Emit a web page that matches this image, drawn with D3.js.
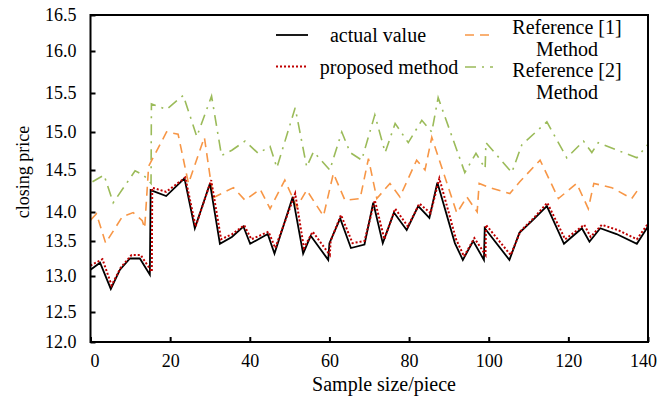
<!DOCTYPE html>
<html>
<head>
<meta charset="utf-8">
<script src="https://cdn.jsdelivr.net/npm/d3@7"></script>
<style>
  body { margin: 0; background: #fff; }
  svg { display: block; }
</style>
</head>
<body>
<svg id="chart"></svg>
<script>
// x ticks and y ticks as printed on the figure
const xTicks = [0, 20, 40, 60, 80, 100, 120, 140]
const yTicks = [12.0, 12.5, 13.0, 13.5, 14.0, 14.5, 15.0, 15.5, 16.0, 16.5]

// actual value
const actualX = [0, 2.4, 5.1, 7.4, 9.9, 12.4, 14.9, 15.1, 19.0, 23.6, 26.2, 30.0, 32.5, 35.5, 38.4, 40.1, 44.5, 46.2, 50.8, 53.4, 55.3, 59.7, 60.0, 62.7, 65.4, 68.8, 71.0, 73.4, 76.2, 79.4, 82.3, 85.1, 87.1, 91.5, 93.5, 96.1, 98.8, 99.0, 105.2, 107.7, 111.2, 114.6, 118.9, 123.4, 125.3, 128.0, 132.1, 137.2, 140]
const actualY = [13.09, 13.19, 12.82, 13.09, 13.25, 13.25, 13.02, 14.26, 14.19, 14.40, 13.72, 14.34, 13.46, 13.57, 13.75, 13.46, 13.62, 13.32, 14.18, 13.32, 13.59, 13.23, 13.47, 13.89, 13.40, 13.45, 14.11, 13.47, 13.99, 13.69, 14.07, 13.90, 14.35, 13.47, 13.23, 13.50, 13.23, 13.72, 13.23, 13.64, 13.87, 14.07, 13.46, 13.72, 13.49, 13.72, 13.62, 13.46, 13.75]

// proposed method
const proposedX = [0, 3.0, 5.3, 7.6, 10.3, 12.6, 15.4, 15.5, 19.0, 23.8, 26.4, 30.3, 32.8, 35.6, 38.6, 40.4, 44.7, 46.4, 51.4, 53.6, 55.8, 60.1, 60.3, 62.9, 65.8, 68.8, 71.4, 73.8, 76.5, 79.7, 82.6, 85.4, 87.6, 91.8, 93.8, 96.4, 99.2, 99.3, 105.5, 108.0, 111.5, 114.7, 119.2, 124.0, 125.6, 128.4, 132.4, 137.2, 140]
const proposedY = [13.15, 13.24, 12.87, 13.12, 13.30, 13.30, 13.06, 14.29, 14.24, 14.41, 13.75, 14.38, 13.53, 13.62, 13.77, 13.53, 13.66, 13.40, 14.22, 13.40, 13.66, 13.30, 13.50, 13.95, 13.47, 13.50, 14.14, 13.53, 14.04, 13.75, 14.10, 13.98, 14.40, 13.53, 13.28, 13.55, 13.30, 13.78, 13.30, 13.67, 13.91, 14.11, 13.53, 13.78, 13.57, 13.78, 13.69, 13.53, 13.80]

// Reference [1] Method
const ref1X = [0, 1.5, 3.8, 8.0, 10.7, 13.0, 13.6, 14.6, 19.1, 22.0, 24.6, 28.6, 30.8, 35.9, 38.8, 42.6, 45.1, 48.8, 51.8, 54.3, 58.5, 61.0, 63.9, 67.7, 69.8, 71.9, 75.2, 77.7, 81.9, 84.0, 85.7, 92.0, 94.5, 97.1, 97.6, 100.3, 105.3, 107.8, 112.9, 117.5, 122.1, 125.0, 126.4, 130.9, 135.9, 138.0]
const ref1Y = [13.86, 13.97, 13.47, 13.92, 13.99, 13.85, 13.72, 14.55, 15.00, 14.97, 14.34, 14.93, 14.17, 14.29, 14.14, 14.27, 14.04, 14.38, 14.06, 14.26, 13.93, 14.46, 14.14, 14.16, 14.65, 14.16, 14.34, 14.18, 14.63, 14.50, 14.93, 13.98, 14.18, 14.00, 14.34, 14.29, 14.22, 14.36, 14.63, 14.16, 14.34, 14.04, 14.34, 14.29, 14.16, 14.30]

// Reference [2] Method
const ref2X = [0.5, 3.4, 5.7, 11.2, 13.3, 15.2, 15.3, 19.1, 23.3, 26.7, 30.4, 32.9, 35.5, 38.8, 42.1, 45.1, 46.8, 51.4, 54.3, 56.0, 60.1, 63.1, 65.2, 68.1, 71.4, 74.0, 76.5, 79.8, 83.2, 85.7, 87.3, 94.0, 96.8, 99.1, 99.3, 105.8, 108.3, 114.6, 119.6, 123.8, 125.9, 127.5, 137.2, 140]
const ref2Y = [14.36, 14.44, 14.11, 14.49, 14.44, 14.34, 15.36, 15.29, 15.47, 14.94, 15.46, 14.69, 14.76, 14.88, 14.72, 14.81, 14.53, 15.31, 14.54, 14.74, 14.50, 15.00, 14.73, 14.63, 15.22, 14.73, 15.11, 14.86, 15.15, 15.00, 15.44, 14.47, 14.72, 14.52, 14.86, 14.47, 14.83, 15.13, 14.66, 14.88, 14.73, 14.86, 14.66, 14.84]

const seriesNames = ['actual value', 'proposed method', 'Reference [1]\nMethod', 'Reference [2]\nMethod']

const width = 659
const height = 396
const plotLeft = 90.5
const plotRight = 648
const plotTop = 15
const plotBottom = 342
const FONT = '"Liberation Serif", "Times New Roman", Times, serif'

const svg = d3.select('#chart').attr('width', width).attr('height', height)

const x = d3.scaleLinear().domain([0, 140]).range([plotLeft, plotRight])
// the printed y axis is not evenly spaced, so map each tick to where it sits
const y = d3.scaleLinear()
  .domain(yTicks)
  .range([342, 312, 276, 241, 212, 170, 132, 93, 51, 15])

const series = [
  { xs: actualX, ys: actualY, color: '#000000', dash: null, w: 1.8 },
  { xs: proposedX, ys: proposedY, color: '#c00000', dash: '2,2', w: 2 },
  { xs: ref1X, ys: ref1Y, color: '#f79646', dash: '9,6', w: 1.6 },
  { xs: ref2X, ys: ref2Y, color: '#9bbb59', dash: '11,6,2,6', w: 1.6 }
]

const line = d3.line().x((d) => x(d[0])).y((d) => y(d[1]))

// draw the lines, back to front
const drawOrder = [3, 2, 0, 1]
drawOrder.forEach((i) => {
  const s = series[i]
  const pts = s.xs.map((v, k) => [v, s.ys[k]])
  svg.append('path')
    .datum(pts)
    .attr('d', line)
    .attr('fill', 'none')
    .attr('stroke', s.color)
    .attr('stroke-width', s.w)
    .attr('stroke-dasharray', s.dash)
})

// frame
svg.append('rect')
  .attr('x', plotLeft)
  .attr('y', plotTop)
  .attr('width', plotRight - plotLeft)
  .attr('height', plotBottom - plotTop)
  .attr('fill', 'none')
  .attr('stroke', '#000')
  .attr('stroke-width', 2)

// axes, ticks pointing inwards
const xAxis = d3.axisBottom(x).tickValues(xTicks).tickSizeInner(-5).tickSizeOuter(0).tickPadding(12)
  .tickFormat(d3.format('d'))
const gx = svg.append('g').attr('transform', `translate(0,${plotBottom})`).call(xAxis)
gx.select('.domain').remove()
gx.selectAll('line').attr('stroke-width', 2)
gx.selectAll('text')
  .style('font-family', FONT)
  .style('font-size', '18px')
  .attr('fill', '#000')
  .attr('dy', '0.71em')
  .attr('dx', (d) => (d === 0 ? 4 : d === 140 ? -5 : 0))

const yAxis = d3.axisLeft(y).tickValues(yTicks).tickSizeInner(-5).tickSizeOuter(0).tickPadding(14)
  .tickFormat(d3.format('.1f'))
const gy = svg.append('g').attr('transform', `translate(${plotLeft},0)`).call(yAxis)
gy.select('.domain').remove()
gy.selectAll('line').attr('stroke-width', 2)
gy.selectAll('text')
  .style('font-family', FONT)
  .style('font-size', '18px')
  .attr('fill', '#000')

// axis titles
svg.append('text')
  .attr('x', 384)
  .attr('y', 391)
  .attr('text-anchor', 'middle')
  .style('font-family', FONT)
  .style('font-size', '20px')
  .text('Sample size/piece')

svg.append('text')
  .attr('transform', 'translate(29,172) rotate(-90)')
  .attr('text-anchor', 'middle')
  .style('font-family', FONT)
  .style('font-size', '18px')
  .text('closing price')

// legend
const legendPos = [
  { lx: 276, ly: 35, tx: 378, ty: 35 },
  { lx: 276, ly: 66.5, tx: 389, ty: 67 },
  { lx: 465, ly: 35, tx: 567, ty: 27 },
  { lx: 465, ly: 67, tx: 567, ty: 70 }
]
const legend = svg.append('g')
seriesNames.forEach((name, i) => {
  const s = series[i]
  const p = legendPos[i]
  legend.append('line')
    .attr('x1', p.lx).attr('x2', p.lx + (i < 2 ? 32 : 28))
    .attr('y1', p.ly).attr('y2', p.ly)
    .attr('stroke', s.color)
    .attr('stroke-width', s.w)
    .attr('stroke-dasharray', s.dash)
  const t = legend.append('text')
    .attr('text-anchor', 'middle')
    .style('font-family', FONT)
    .style('font-size', '20px')
  name.split('\n').forEach((part, k) => {
    t.append('tspan')
      .attr('x', p.tx)
      .attr('y', p.ty + k * 22)
      .attr('dy', '0.35em')
      .text(part)
  })
})
</script>
</body>
</html>
